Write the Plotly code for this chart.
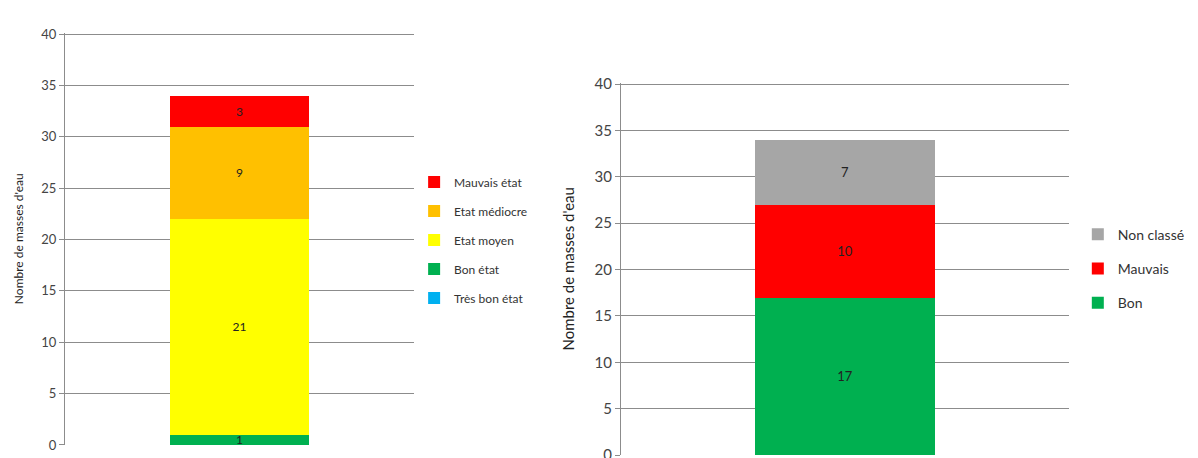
import plotly.graph_objects as go

# left chart: état écologique
left_names = ["Très bon état", "Bon état", "Etat moyen", "Etat médiocre", "Mauvais état"]
left_values = [0, 1, 21, 9, 3]
left_colors = ["#00B0F0", "#00B050", "#FFFF00", "#FFC000", "#FF0000"]

# right chart: état chimique
right_names = ["Bon", "Mauvais", "Non classé"]
right_values = [17, 10, 7]
right_colors = ["#00B050", "#FF0000", "#A6A6A6"]

y_ticks = [0, 5, 10, 15, 20, 25, 30, 35, 40]
font = "Lato, 'Open Sans', sans-serif"

fig = go.Figure()

for i, (name, val, col) in enumerate(zip(left_names, left_values, left_colors)):
    fig.add_trace(go.Bar(
        x=[""], y=[val], name=name, marker_color=col, marker_line_width=0,
        text=[str(val) if val else ""], textposition="inside",
        insidetextanchor="middle", textangle=0,
        textfont=dict(size=12, color="#222"),
        xaxis="x", yaxis="y", legend="legend", legendgroup="l" + name,
        legendrank=100 - i, width=0.4,
    ))

for i, (name, val, col) in enumerate(zip(right_names, right_values, right_colors)):
    fig.add_trace(go.Bar(
        x=[""], y=[val], name=name, marker_color=col, marker_line_width=0,
        text=[str(val)], textposition="inside",
        insidetextanchor="middle", textangle=0,
        textfont=dict(size=13, color="#222"),
        xaxis="x2", yaxis="y2", legend="legend2", legendgroup="r" + name,
        legendrank=100 - i, width=0.4,
    ))

axis_common = dict(
    range=[0, 40.15], tickvals=y_ticks, showgrid=True, gridcolor="#8c8c8c",
    gridwidth=1, zeroline=False, showline=True, linecolor="#8c8c8c",
    ticks="outside", ticklen=5, tickcolor="#8c8c8c", automargin=False,
)

fig.update_layout(
    width=1198, height=458,
    margin=dict(l=0, r=0, t=0, b=0),
    paper_bgcolor="white", plot_bgcolor="white",
    barmode="stack", bargap=0,
    font=dict(family=font, color="#333"),
    showlegend=True,
    uniformtext=dict(minsize=10, mode="show"),
    xaxis=dict(domain=[0.0475, 0.3389], showticklabels=False, showline=False,
               anchor="y", automargin=False),
    yaxis=dict(domain=[0.0459, 0.9465], anchor="x",
               title=dict(text="Nombre de masses d'eau", standoff=15,
                          font=dict(size=12, color="#222")),
               tickfont=dict(size=13, color="#444"), **axis_common),
    xaxis2=dict(domain=[0.5117, 0.8856], showticklabels=False, showline=False,
                anchor="y2", automargin=False),
    yaxis2=dict(domain=[0.024, 0.837], anchor="x2",
                title=dict(text="Nombre de masses d'eau", standoff=16,
                           font=dict(size=15, color="#222")),
                tickfont=dict(size=15, color="#444"), **axis_common),
    legend=dict(x=0.339, y=0.652, xanchor="left", yanchor="top",
                traceorder="grouped", tracegroupgap=10,
                font=dict(size=12, color="#333"), itemwidth=30),
    legend2=dict(x=0.893, y=0.54, xanchor="left", yanchor="top",
                 traceorder="grouped", tracegroupgap=13,
                 font=dict(size=14, color="#333"), itemwidth=30),
)

fig.write_html("out.html")
